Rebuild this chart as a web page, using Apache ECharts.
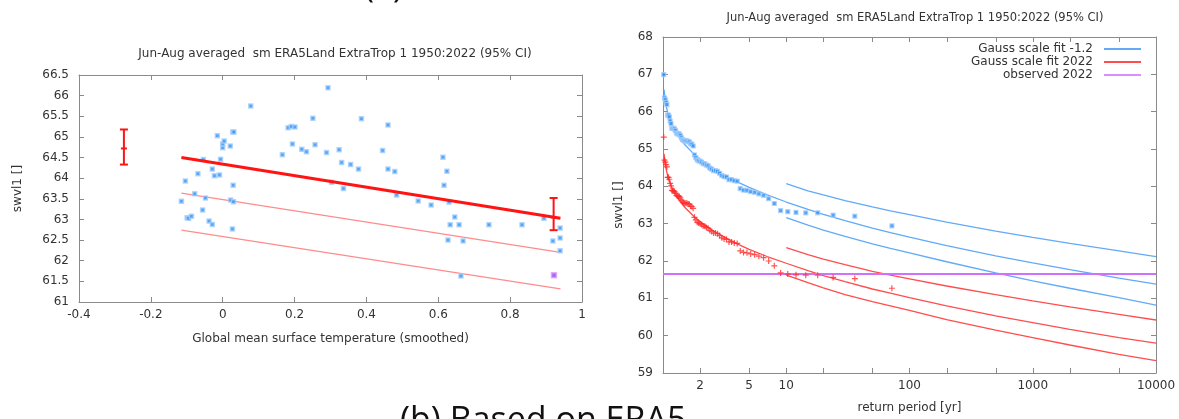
<!DOCTYPE html>
<html>
<head>
<meta charset="utf-8">
<title>swvl1 ERA5Land Jun-Aug</title>
<script src="https://cdn.jsdelivr.net/npm/echarts@6.0.0/dist/echarts.min.js"></script>
<style>
  html, body { margin: 0; padding: 0; background: #fff; }
  #chart { width: 1179px; height: 419px; }
</style>
</head>
<body>
<div id="chart"></div>
<script>
// ---- left panel: swvl1 against smoothed GMST ----
const gmst = [-0.115, -0.104, -0.099, -0.095, -0.087, -0.078, -0.069, -0.056, -0.054, -0.048,
  -0.038, -0.029, -0.029, -0.023, -0.015, -0.009, -0.006, 0.000, 0.000, 0.004,
  0.021, 0.022, 0.028, 0.031, 0.029, 0.030, 0.027, 0.078, 0.166, 0.182,
  0.191, 0.201, 0.194, 0.220, 0.233, 0.251, 0.257, 0.289, 0.293, 0.303,
  0.324, 0.331, 0.336, 0.356, 0.378, 0.386, 0.445, 0.460, 0.460, 0.479,
  0.484, 0.544, 0.580, 0.613, 0.624, 0.616, 0.630, 0.646, 0.633, 0.658,
  0.627, 0.669, 0.663, 0.741, 0.833, 0.894, 0.939, 0.939, 0.919, 0.939];
const swvl = [63.44, 63.93, 63.04, 63.03, 63.08, 63.62, 64.11, 63.23, 64.45, 63.52,
  62.96, 62.88, 64.22, 64.06, 65.03, 64.08, 64.46, 64.74, 64.83, 64.90,
  64.78, 63.47, 65.12, 65.12, 63.83, 63.43, 62.77, 65.75, 64.57, 65.22,
  65.25, 65.24, 64.83, 64.70, 64.64, 65.45, 64.81, 64.62, 66.19, 63.90,
  64.69, 64.38, 63.75, 64.33, 64.22, 65.44, 64.67, 65.29, 64.22, 64.16,
  63.59, 63.45, 63.35, 64.51, 64.17, 63.83, 63.42, 63.06, 62.87, 62.87,
  62.50, 62.48, 61.63, 62.87, 62.87, 63.03, 62.79, 62.55, 62.48, 62.24];
const obs2022X = 0.922;
const obs2022 = 61.65;

// fitted mean and two return-level lines
const fitX = [-0.115, 0.94];
const fitMean = [64.50, 63.03];
const fitRl1 = [63.64, 62.20];
const fitRl2 = [62.74, 61.32];

// 95% CI of the mean at the two reference climates
const ciX = [-0.275, 0.921];
const ciLo = [64.33, 62.74];
const ciMid = [64.72, 63.05];
const ciHi = [65.18, 63.52];

// ---- right panel: return periods ----
const retPeriod = [1.014, 1.029, 1.043, 1.059, 1.075, 1.091, 1.108, 1.125, 1.143, 1.161,
  1.18, 1.2, 1.22, 1.241, 1.263, 1.286, 1.309, 1.333, 1.358, 1.385,
  1.412, 1.44, 1.469, 1.5, 1.532, 1.565, 1.6, 1.636, 1.674, 1.714,
  1.756, 1.8, 1.846, 1.895, 1.946, 2, 2.057, 2.118, 2.182, 2.25,
  2.323, 2.4, 2.483, 2.571, 2.667, 2.769, 2.88, 3, 3.13, 3.273,
  3.429, 3.6, 3.789, 4, 4.235, 4.5, 4.8, 5.143, 5.538, 6,
  6.545, 7.2, 8, 9, 10.29, 12, 14.4, 18, 24, 36, 72];
const obsCold = [66.99, 66.37, 66.32, 66.25, 66.19, 65.91, 65.91, 65.86, 65.75, 65.68,
  65.56, 65.55, 65.55, 65.53, 65.49, 65.43, 65.41, 65.40, 65.40, 65.36,
  65.30, 65.25, 65.23, 65.22, 65.22, 65.22, 65.20, 65.19, 65.14, 65.13,
  65.08, 64.84, 64.77, 64.71, 64.69, 64.67, 64.65, 64.61, 64.60, 64.57,
  64.55, 64.49, 64.46, 64.42, 64.42, 64.40, 64.35, 64.29, 64.26, 64.25,
  64.18, 64.18, 64.15, 64.14, 63.94, 63.90, 63.89, 63.86, 63.84, 63.80,
  63.76, 63.67, 63.54, 63.35, 63.32, 63.30, 63.29, 63.29, 63.23, 63.20, 62.94];
const obsNow = [65.32, 64.70, 64.65, 64.58, 64.52, 64.24, 64.24, 64.19, 64.08, 64.01,
  63.89, 63.88, 63.88, 63.86, 63.82, 63.76, 63.74, 63.73, 63.73, 63.69,
  63.63, 63.58, 63.56, 63.55, 63.55, 63.55, 63.53, 63.52, 63.47, 63.46,
  63.41, 63.17, 63.10, 63.04, 63.02, 63.00, 62.98, 62.94, 62.93, 62.90,
  62.88, 62.82, 62.79, 62.75, 62.75, 62.73, 62.68, 62.62, 62.59, 62.58,
  62.51, 62.51, 62.48, 62.47, 62.27, 62.23, 62.22, 62.19, 62.17, 62.13,
  62.09, 62.00, 61.87, 61.68, 61.65, 61.63, 61.62, 61.62, 61.56, 61.53, 61.27];

const fitT = [1.02, 1.05, 1.1, 1.2, 1.35, 1.5, 1.75, 2, 2.5, 3, 4, 5, 7, 10, 15, 20, 30, 50, 70,
  100, 200, 500, 1000, 2000, 5000, 10000];
const fitCold = [66.59, 66.23, 65.93, 65.60, 65.31, 65.12, 64.89, 64.73, 64.50, 64.34, 64.12, 63.97,
  63.77, 63.58, 63.38, 63.25, 63.08, 62.88, 62.76, 62.64, 62.41, 62.14, 61.95, 61.77, 61.54, 61.38];
const fitNow = [64.87, 64.52, 64.23, 63.91, 63.63, 63.44, 63.22, 63.06, 62.83, 62.68, 62.46, 62.31,
  62.12, 61.94, 61.74, 61.61, 61.45, 61.25, 61.14, 61.02, 60.80, 60.53, 60.35, 60.17, 59.95, 59.80];

const ciT = [10, 15, 20, 30, 50, 70, 100, 200, 500, 1000, 2000, 5000, 10000];
const coldHi = [64.07, 63.88, 63.77, 63.62, 63.45, 63.34, 63.24, 63.04, 62.80, 62.63, 62.47, 62.27, 62.12];
const coldLo = [63.16, 62.96, 62.83, 62.66, 62.46, 62.34, 62.22, 61.98, 61.68, 61.47, 61.27, 61.02, 60.82];
const nowHi = [62.36, 62.17, 62.05, 61.90, 61.72, 61.62, 61.52, 61.33, 61.10, 60.93, 60.77, 60.57, 60.42];
const nowLo = [61.62, 61.42, 61.28, 61.10, 60.91, 60.80, 60.68, 60.43, 60.15, 59.95, 59.75, 59.50, 59.33];

const obsLineT = [1, 10000];
const obsLine = [61.65, 61.65];

const minorPeriods = [2, 5, 20, 50, 200, 500, 2000, 5000];
const minorLabels = [2, 5];

const titleText = 'Jun-Aug averaged  sm ERA5Land ExtraTrop 1 1950:2022 (95% CI)';

const FONT = 'DejaVu Sans';
const TXT = '#333';
const AXIS = '#8a8a8a';
const BLUE_PT = '#2a8ef5';
const BLUE_LN = '#62aaf7';
const RED_PT = '#ff2a2a';
const RED_LN = '#ff4d4d';
const PINK = '#ff8c8c';
const VIOLET = '#d070ff';

const zip = (xs, ys) => xs.map((x, i) => [x, ys[i]]);
const plus = 'path://M4,0H6V4H10V6H6V10H4V6H0V4H4Z';

function baseAxis(extra) {
  return Object.assign({
    axisLine: { onZero: false, lineStyle: { color: AXIS, width: 1 } },
    axisTick: { inside: true, length: 5, lineStyle: { color: AXIS } },
    splitLine: { show: false },
    axisLabel: { color: TXT, fontFamily: FONT, fontSize: 12 },
    nameTextStyle: { color: TXT, fontFamily: FONT, fontSize: 12 }
  }, extra);
}

const chart = echarts.init(document.getElementById('chart'), null, { renderer: 'canvas' });

const option = {
  animation: false,
  backgroundColor: '#fff',
  title: [
    { text: titleText, left: 330, top: 43, textAlign: 'center',
      textStyle: { fontFamily: FONT, fontSize: 12, fontWeight: 'normal', color: TXT } },
    { text: titleText, left: 910, top: 7, textAlign: 'center',
      textStyle: { fontFamily: FONT, fontSize: 11.5, fontWeight: 'normal', color: TXT } }
  ],
  legend: {
    data: ['Gauss scale fit -1.2', 'Gauss scale fit 2022', 'observed 2022'],
    orient: 'vertical', right: 38, top: 43, align: 'right', padding: 0,
    icon: 'rect', itemWidth: 37, itemHeight: 2, itemGap: 1,
    selectedMode: false,
    textStyle: { fontFamily: FONT, fontSize: 12, color: TXT, padding: [0, 6, 0, 0] }
  },
  grid: [
    { left: 79, top: 75, width: 503, height: 227 },
    { left: 663, top: 37, width: 493, height: 337 }
  ],
  xAxis: [
    baseAxis({ gridIndex: 0, type: 'value', min: -0.4, max: 1, interval: 0.2,
      name: 'Global mean surface temperature (smoothed)', nameLocation: 'middle', nameGap: 31,
      axisLabel: { color: TXT, fontFamily: FONT, fontSize: 12, margin: 7 } }),
    baseAxis({ gridIndex: 0, type: 'value', position: 'top', min: -0.4, max: 1, interval: 0.2,
      axisLabel: { show: false } }),
    baseAxis({ gridIndex: 1, type: 'log', logBase: 10, min: 1, max: 10000,
      name: 'return period [yr]', nameLocation: 'middle', nameGap: 29,
      axisLabel: { color: TXT, fontFamily: FONT, fontSize: 12, margin: 7,
        formatter: v => (v <= 1 ? '' : String(Math.round(v))) } }),
    baseAxis({ gridIndex: 1, type: 'log', logBase: 10, position: 'top', min: 1, max: 10000,
      axisLabel: { show: false } })
  ],
  yAxis: [
    baseAxis({ gridIndex: 0, type: 'value', min: 61, max: 66.5, interval: 0.5,
      name: 'swvl1 []', nameLocation: 'middle', nameGap: 55, nameRotate: 90,
      axisLabel: { color: TXT, fontFamily: FONT, fontSize: 12, margin: 10 } }),
    baseAxis({ gridIndex: 0, type: 'value', position: 'right', min: 61, max: 66.5, interval: 0.5,
      axisLabel: { show: false } }),
    baseAxis({ gridIndex: 1, type: 'value', min: 59, max: 68, interval: 1,
      name: 'swvl1 []', nameLocation: 'middle', nameGap: 38, nameRotate: 90,
      axisLabel: { color: TXT, fontFamily: FONT, fontSize: 12, margin: 10 } }),
    baseAxis({ gridIndex: 1, type: 'value', position: 'right', min: 59, max: 68, interval: 1,
      axisLabel: { show: false } })
  ],
  series: [
    // left panel
    { name: 'rl1', type: 'line', xAxisIndex: 0, yAxisIndex: 0, data: zip(fitX, fitRl1),
      symbol: 'none', lineStyle: { color: PINK, width: 1.3 }, color: PINK },
    { name: 'rl2', type: 'line', xAxisIndex: 0, yAxisIndex: 0, data: zip(fitX, fitRl2),
      symbol: 'none', lineStyle: { color: PINK, width: 1.3 }, color: PINK },
    { name: 'obs', type: 'scatter', xAxisIndex: 0, yAxisIndex: 0, data: zip(gmst, swvl),
      symbol: 'rect', symbolSize: 4, z: 3,
      itemStyle: { color: BLUE_PT, borderColor: '#a9d0fb', borderWidth: 1.5 } },
    { name: 'obs 2022', type: 'scatter', xAxisIndex: 0, yAxisIndex: 0, data: [[obs2022X, obs2022]],
      symbol: 'rect', symbolSize: 5, z: 4,
      itemStyle: { color: '#8a4cf0', borderColor: '#e6a0ff', borderWidth: 1.5 } },
    { name: 'mean', type: 'line', xAxisIndex: 0, yAxisIndex: 0, data: zip(fitX, fitMean),
      symbol: 'none', lineStyle: { color: '#ff1414', width: 3 }, color: '#ff1414', z: 5 },
    { name: 'ci', type: 'custom', xAxisIndex: 0, yAxisIndex: 0, z: 6,
      data: ciX.map((x, i) => [x, ciLo[i], ciMid[i], ciHi[i]]),
      encode: { x: 0, y: [1, 2, 3] },
      renderItem: (params, api) => {
        const x = api.value(0);
        const lo = api.coord([x, api.value(1)]);
        const mid = api.coord([x, api.value(2)]);
        const hi = api.coord([x, api.value(3)]);
        const st = { stroke: '#ff1414', lineWidth: 2 };
        const cap = (p, w) => ({ type: 'line', shape: { x1: p[0] - w, y1: p[1], x2: p[0] + w, y2: p[1] }, style: st });
        return { type: 'group', children: [
          { type: 'line', shape: { x1: lo[0], y1: lo[1], x2: hi[0], y2: hi[1] }, style: st },
          cap(lo, 4), cap(hi, 4), cap(mid, 3)
        ] };
      } },

    // right panel
    { name: 'Gauss scale fit -1.2', type: 'line', xAxisIndex: 2, yAxisIndex: 2, data: zip(fitT, fitCold),
      symbol: 'none', lineStyle: { color: BLUE_LN, width: 1.3 }, color: BLUE_LN },
    { name: 'cold hi', type: 'line', xAxisIndex: 2, yAxisIndex: 2, data: zip(ciT, coldHi),
      symbol: 'none', lineStyle: { color: BLUE_LN, width: 1.3 }, color: BLUE_LN },
    { name: 'cold lo', type: 'line', xAxisIndex: 2, yAxisIndex: 2, data: zip(ciT, coldLo),
      symbol: 'none', lineStyle: { color: BLUE_LN, width: 1.3 }, color: BLUE_LN },
    { name: 'Gauss scale fit 2022', type: 'line', xAxisIndex: 2, yAxisIndex: 2, data: zip(fitT, fitNow),
      symbol: 'none', lineStyle: { color: RED_LN, width: 1.3 }, color: RED_LN },
    { name: 'now hi', type: 'line', xAxisIndex: 2, yAxisIndex: 2, data: zip(ciT, nowHi),
      symbol: 'none', lineStyle: { color: RED_LN, width: 1.3 }, color: RED_LN },
    { name: 'now lo', type: 'line', xAxisIndex: 2, yAxisIndex: 2, data: zip(ciT, nowLo),
      symbol: 'none', lineStyle: { color: RED_LN, width: 1.3 }, color: RED_LN },
    { name: 'observed 2022', type: 'line', xAxisIndex: 2, yAxisIndex: 2, data: zip(obsLineT, obsLine),
      symbol: 'none', lineStyle: { color: VIOLET, width: 2 }, color: '#dc8cff' },
    { name: 'obs cold', type: 'scatter', xAxisIndex: 2, yAxisIndex: 2, data: zip(retPeriod, obsCold),
      symbol: 'rect', symbolSize: 4, z: 3,
      itemStyle: { color: BLUE_PT, borderColor: '#a9d0fb', borderWidth: 1.2 } },
    { name: 'obs now', type: 'scatter', xAxisIndex: 2, yAxisIndex: 2, data: zip(retPeriod, obsNow),
      symbol: plus, symbolSize: 6, z: 3, itemStyle: { color: RED_PT } }
  ]
};

chart.setOption(option);

// captions of the surrounding figure
const captions = [
  { type: 'text', left: 364, top: -30, silent: true,
    style: { text: '(a)', font: '34px "Open Sans"', fill: '#111' } },
  { type: 'text', left: 400, top: 404, silent: true,
    style: { text: '(b) Based on ERA5', font: '34px "Open Sans"', fill: '#111' } }
];

// 1-2-5 ticks on the log axis, placed through the axis scale
const yBot = chart.convertToPixel({ yAxisIndex: 2 }, 59);
const yTop = chart.convertToPixel({ yAxisIndex: 2 }, 68);
const ticks = [];
minorPeriods.forEach(t => {
  const x = Math.round(chart.convertToPixel({ xAxisIndex: 2 }, t)) + 0.5;
  ticks.push({ type: 'line', silent: true, shape: { x1: x, y1: yBot, x2: x, y2: yBot - 5 }, style: { stroke: AXIS, lineWidth: 1 } });
  ticks.push({ type: 'line', silent: true, shape: { x1: x, y1: yTop, x2: x, y2: yTop + 5 }, style: { stroke: AXIS, lineWidth: 1 } });
});
minorLabels.forEach(t => {
  const x = chart.convertToPixel({ xAxisIndex: 2 }, t);
  ticks.push({ type: 'text', silent: true, x: x, y: yBot + 7,
    style: { text: String(t), fontFamily: FONT, fontSize: 12, fill: TXT, align: 'center', verticalAlign: 'top' } });
});

chart.setOption({ graphic: captions.concat(ticks) });
</script>
</body>
</html>
